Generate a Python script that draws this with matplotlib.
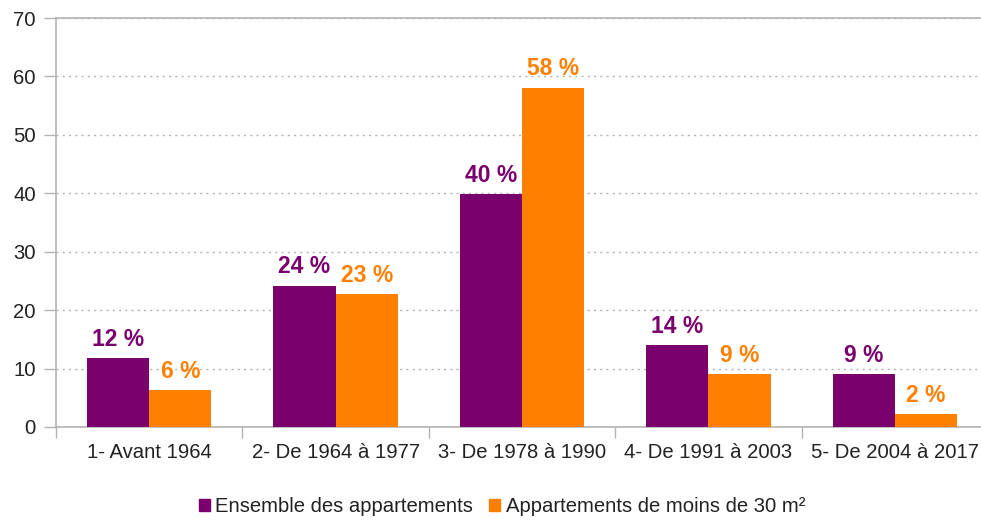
import matplotlib
matplotlib.use("Agg")
import matplotlib.pyplot as plt
from matplotlib.patches import Patch
import numpy as np

categories = ["1- Avant 1964", "2- De 1964 à 1977", "3- De 1978 à 1990",
              "4- De 1991 à 2003", "5- De 2004 à 2017"]
ensemble = [11.8, 24.2, 39.8, 14.0, 9.1]
moins30 = [6.3, 22.7, 58.1, 9.1, 2.2]
ensemble_labels = ["12 %", "24 %", "40 %", "14 %", "9 %"]
moins30_labels = ["6 %", "23 %", "58 %", "9 %", "2 %"]
series_names = ["Ensemble des appartements", "Appartements de moins de 30 m²"]
yticks = [0, 10, 20, 30, 40, 50, 60, 70]

PURPLE = "#7A006E"
ORANGE = "#FF8000"
GRID = "#B3B3B3"
TXT = "#222222"

plt.rcParams['font.family'] = ['Liberation Sans', 'DejaVu Sans']

W, H = 981, 520
fig = plt.figure(figsize=(W / 100, H / 100), dpi=100)
ax = fig.add_axes([56 / W, (H - 427) / H, (988 - 56) / W, (427 - 18) / H])

x = np.arange(len(categories))
bw = 1 / 3
ax.bar(x - bw / 2, ensemble, width=bw, color=PURPLE, zorder=3)
ax.bar(x + bw / 2, moins30, width=bw, color=ORANGE, zorder=3)

for xi, v, lab in zip(x, ensemble, ensemble_labels):
    ax.annotate(lab, (xi - bw / 2, v), xytext=(0, 8.8), textcoords="offset points",
                ha="center", va="baseline", fontsize=16.5, fontweight="bold", color=PURPLE)
for xi, v, lab in zip(x, moins30, moins30_labels):
    ax.annotate(lab, (xi + bw / 2, v), xytext=(0, 8.8), textcoords="offset points",
                ha="center", va="baseline", fontsize=16.5, fontweight="bold", color=ORANGE)

ax.set_xlim(-0.5, len(categories) - 0.5)
ax.set_ylim(0, 70)
ax.set_yticks(yticks)
ax.set_yticklabels([str(t) for t in yticks])
ax.set_xticks(x)
ax.set_xticklabels(categories)
ax.set_xticks(np.arange(len(categories) + 1) - 0.5, minor=True)
ax.tick_params(axis="x", which="major", length=0, pad=11.5, labelsize=14.6, labelcolor=TXT)
ax.tick_params(axis="x", which="minor", length=8, width=1, color=GRID)
ax.tick_params(axis="y", length=9, width=1, color=GRID, pad=5.5, labelsize=14.6, labelcolor=TXT)

ax.yaxis.grid(True, linestyle=(0, (1.5, 3)), color=GRID, linewidth=1, zorder=0)
ax.set_axisbelow(True)
for s in ["left", "bottom", "top", "right"]:
    ax.spines[s].set_color(GRID)
    ax.spines[s].set_linewidth(1.2)

handles = [Patch(color=PURPLE), Patch(color=ORANGE)]
fig.legend(handles, series_names, loc="center", bbox_to_anchor=(502 / W, (H - 507) / H),
           ncol=2, frameon=False, fontsize=14.6, handlelength=0.55, handleheight=0.55,
           handletextpad=0.25, columnspacing=0.8, labelcolor=TXT)

fig.savefig("out.png", dpi=100)
